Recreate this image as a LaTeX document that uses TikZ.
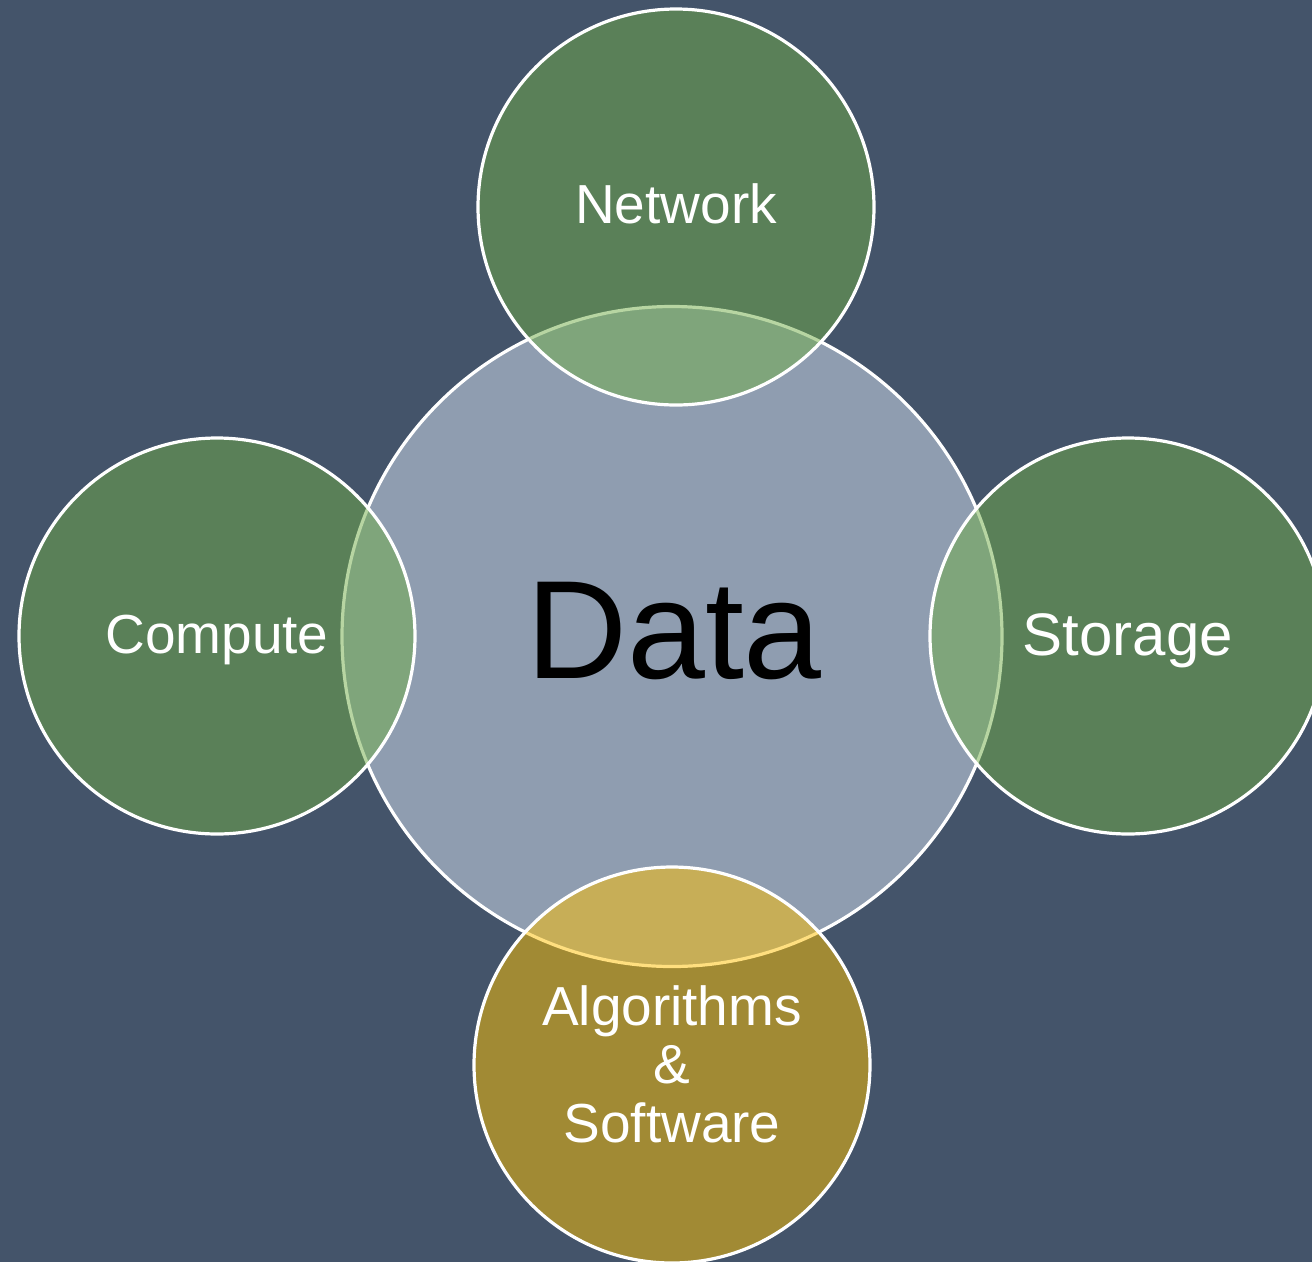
\documentclass[tikz,border=0pt]{standalone}
\usepackage{fontspec}
\setmainfont{Liberation Sans}
\definecolor{bgc}{HTML}{44546A}
\definecolor{datafill}{HTML}{8F9DB0}
\definecolor{greenacc}{HTML}{70AD47}
\definecolor{goldacc}{HTML}{FFC000}
\begin{document}
\begin{tikzpicture}[x=1pt,y=-1pt,
  ring/.style={circle,inner sep=0pt,outer sep=0pt,draw=white,line width=3.2pt},
  sat/.style={ring,minimum size=396pt,fill opacity=0.5,draw opacity=1},
  lbl/.style={text=white,font=\fontsize{55}{58.5}\selectfont,inner sep=0pt,align=center}]
\fill[bgc] (0,0) rectangle (1312,1262);
\useasboundingbox (0,0) rectangle (1312,1262);
\node[ring,minimum size=660pt,fill=datafill] (data) at (672,636.5) {};
\node[sat,fill=greenacc] (net) at (676,207) {};
\node[sat,fill=greenacc] (comp) at (217,636) {};
\node[sat,fill=greenacc] (stor) at (1128,636) {};
\node[sat,fill=goldacc] (algo) at (672,1065) {};
\node[inner sep=0pt,anchor=base,font=\fontsize{140}{140}\selectfont] (datalbl) at (674,678) {Data};
\node[lbl,anchor=base] (netlbl) at (676,223) {Network};
\node[lbl,anchor=base] (complbl) at (217,653) {Compute};
\node[lbl,anchor=base,font=\fontsize{60}{60}\selectfont] (storlbl) at (1128,655) {Storage};
\node[lbl] (algolbl) at (672,1064) {Algorithms\\\&\\Software};
\end{tikzpicture}
\end{document}
